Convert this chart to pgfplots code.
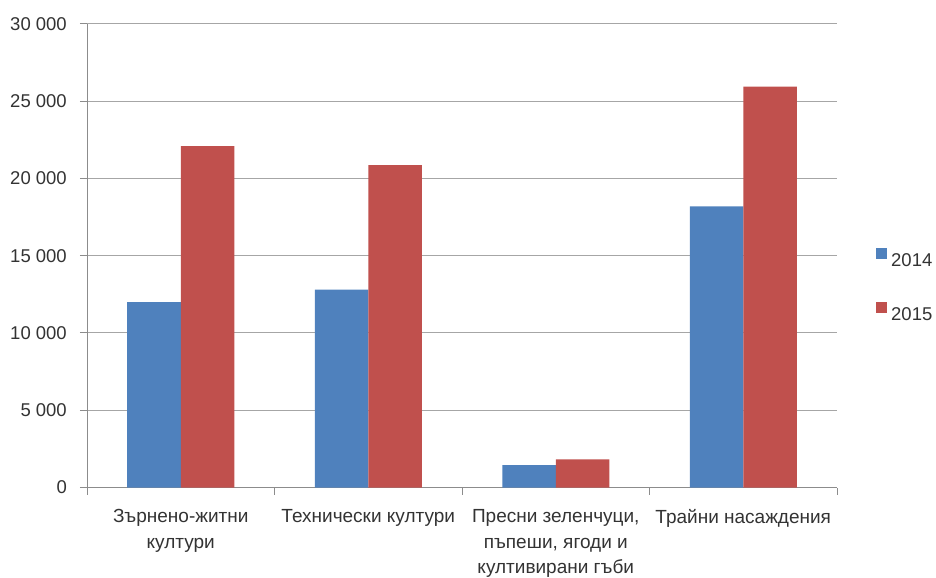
\documentclass[border=0pt]{standalone}
\usepackage{pgfplots}
\pgfplotsset{compat=1.18}
\usepackage{fontspec}
\setmainfont{Liberation Sans}
\definecolor{bblue}{HTML}{4F81BD}
\definecolor{bred}{HTML}{C0504D}
\definecolor{gridgray}{HTML}{A6A6A6}
\definecolor{axisgray}{HTML}{8C8C8C}
\definecolor{txt}{HTML}{333333}
\newcommand{\lbl}{\fontsize{19bp}{25.5bp}\selectfont}
\newcommand{\tlbl}{\fontsize{18.5bp}{22bp}\selectfont}
% square legend swatch
\pgfplotsset{sqlegend/.style={legend image code/.code={\fill[##1] (0bp,1bp) rectangle (11bp,12bp);}}}

\begin{document}
\begin{tikzpicture}
\useasboundingbox (0bp,0bp) rectangle (936bp,578bp);
\begin{axis}[
  at={(87bp,90.5bp)}, anchor=south west,
  scale only axis, width=750bp, height=463.5bp,
  xmin=-0.5, xmax=3.5, ymin=0, ymax=30000,
  ybar=0pt, bar width=53.5bp,
  axis x line*=bottom, axis y line*=left,
  axis line style={axisgray, line width=1bp},
  tick align=outside,
  major tick length=7bp, minor tick length=7bp,
  xtick={0,1,2,3},
  minor xtick={-0.5,0.5,1.5,2.5,3.5},
  major x tick style={draw=none},
  minor x tick style={axisgray, line width=1bp},
  ytick={0,5000,10000,15000,20000,25000,30000},
  y tick style={axisgray, line width=1bp},
  ymajorgrids, grid style={gridgray, line width=1bp},
  scaled y ticks=false,
  xticklabels={{Зърнено-житни\\култури},{Технически култури},{Пресни зеленчуци,\\пъпеши, ягоди и\\култивирани гъби},{Трайни насаждения}},
  xticklabel style={font=\lbl, text=txt, align=center, anchor=north, inner sep=0pt, yshift=-15bp},
  yticklabel style={font=\tlbl, text=txt, anchor=east, inner sep=0pt, xshift=-13bp,
    /pgf/number format/assume math mode=true,
    /pgf/number format/1000 sep={\ }},
  legend style={draw=none, fill=none, at={(1.052,0.438)}, anchor=west,
    font=\tlbl, text=txt, inner sep=0pt, row sep=36bp, column sep=4bp,
    nodes={inner sep=0pt, text height=13bp, text depth=0pt}},
  legend cell align=left,
]
\addplot[fill=bblue, draw=none, sqlegend]
  coordinates {(0,12000) (1,12810) (2,1450) (3,18200)};
\addlegendentry{2014}
\addplot[fill=bred, draw=none, sqlegend]
  coordinates {(0,22100) (1,20870) (2,1820) (3,25950)};
\addlegendentry{2015}
\end{axis}
\end{tikzpicture}
\end{document}
